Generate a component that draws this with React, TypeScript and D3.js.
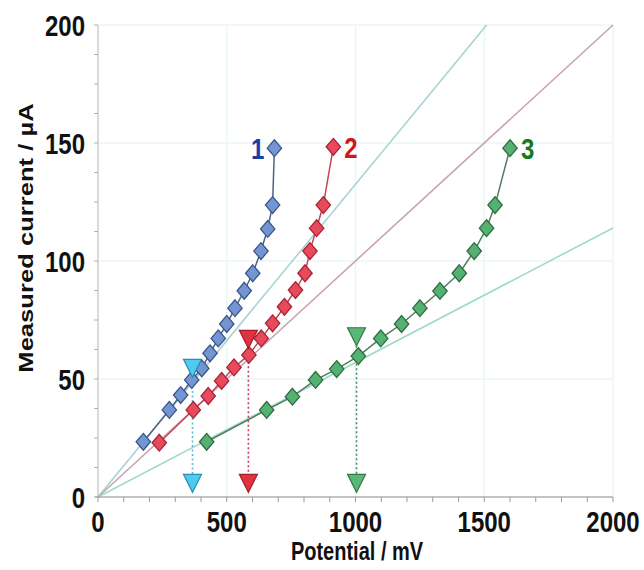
import React from "react";
import * as d3 from "d3";

const bluePotential = [176, 277, 321, 364, 403, 435, 467, 500, 532, 568, 601, 633, 659, 678, 685];
const blueCurrent = [23.4, 36.9, 43.2, 49.6, 54.5, 60.9, 67.2, 73.3, 80.0, 87.4, 94.8, 104.2, 113.6, 123.7, 147.8];
const redPotential = [238, 370, 428, 480, 528, 586, 634, 678, 724, 767, 804, 823, 849, 875, 914];
const redCurrent = [23.0, 36.9, 42.8, 49.2, 54.9, 60.2, 67.2, 73.6, 80.6, 87.7, 94.8, 104.2, 113.9, 123.7, 148.4];
const greenPotential = [422, 655, 755, 845, 927, 1011, 1098, 1179, 1250, 1328, 1403, 1461, 1509, 1542, 1600];
const greenCurrent = [23.4, 36.9, 42.5, 49.6, 54.2, 59.7, 67.2, 73.3, 80.0, 87.3, 94.8, 104.2, 113.9, 123.7, 147.8];

const refSlopes = [0.1325, 0.1, 0.057];
const markerPotential = [367, 584, 1004];
const markerTopCurrent = [54.5, 66.8, 67.9];
const markerBottomCurrent = 5.8;

const xTicks = [0, 500, 1000, 1500, 2000];
const yTicks = [0, 50, 100, 150, 200];
const seriesLabels = ["1", "2", "3"];

const W = 644, H = 570;
const x = d3.scaleLinear().domain([0, 2000]).range([98, 613]);
const y = d3.scaleLinear().domain([0, 200]).range([497, 25]);

const series = [
  { px: bluePotential, cy: blueCurrent, fill: "#7396d2", stroke: "#3b5688", line: "#4f6284", label: "#1c3ea3" },
  { px: redPotential, cy: redCurrent, fill: "#e8495b", stroke: "#a52438", line: "#c24658", label: "#d01818" },
  { px: greenPotential, cy: greenCurrent, fill: "#55b172", stroke: "#2d6b40", line: "#4f7d5e", label: "#157a1c" },
];
const refColors = ["#a9d4d2", "#c9a3b4", "#9fdcc6"];
const triFill = ["#4fcbf2", "#e3323f", "#58b977"];
const triStroke = ["#2b8db3", "#a11e2d", "#2f7a47"];
const dotColor = ["#5cbad6", "#c23c5a", "#4b8c62"];

const font = "'Liberation Sans', Arial, sans-serif";
const SY = 1.25;

function diamond(cx: number, cy: number, rx: number, ry: number) {
  return `M${cx},${cy - ry}L${cx + rx},${cy}L${cx},${cy + ry}L${cx - rx},${cy}Z`;
}
function triDown(cx: number, cy: number, w: number, h: number) {
  return `M${cx - w / 2},${cy - h / 2}L${cx + w / 2},${cy - h / 2}L${cx},${cy + h / 2}Z`;
}

function T(props: { x: number; y: number; size: number; anchor?: string; fill?: string; dy?: string; children: any }) {
  return (
    <text transform={`translate(${props.x},${props.y}) scale(1,${SY})`} textAnchor={props.anchor || "middle"}
      dy={props.dy} fontFamily={font} fontWeight="bold" fontSize={props.size} fill={props.fill || "#111"}>
      {props.children}
    </text>
  );
}

export default function App() {
  const line = d3.line<[number, number]>().x((d) => x(d[0])).y((d) => y(d[1]));
  const xMinor = d3.range(0, 2001, 100);
  const yMinor = d3.range(0, 200.1, 12.5);
  return (
    <svg width={W} height={H} style={{ position: "absolute", left: 0, top: 0, background: "#fff" }}>
      {/* grid */}
      {xTicks.slice(1).map((t) => (
        <line key={"gx" + t} x1={x(t)} x2={x(t)} y1={y(0)} y2={y(200)} stroke="#ebf7f5" strokeWidth={1.5} />
      ))}
      {yTicks.slice(1).map((t) => (
        <line key={"gy" + t} x1={x(0)} x2={x(2000)} y1={y(t)} y2={y(t)} stroke="#ebf7f5" strokeWidth={1.5} />
      ))}
      {/* reference lines */}
      {refSlopes.map((s, i) => {
        const xe = Math.min(2000, 200 / s);
        return (
          <path key={"r" + i} d={line([[0, 0], [xe, xe * s]]) || ""} stroke={refColors[i]} strokeWidth={1.6} fill="none" />
        );
      })}
      {/* dotted drop lines */}
      {markerPotential.map((p, i) => (
        <line key={"d" + i} x1={x(p)} x2={x(p)} y1={y(markerTopCurrent[i])} y2={y(markerBottomCurrent)}
          stroke={dotColor[i]} strokeWidth={1.6} strokeDasharray="2,2.5" />
      ))}
      {/* axes */}
      <line x1={x(0)} x2={x(0)} y1={y(0)} y2={y(200)} stroke="#b5b5b5" strokeWidth={1} />
      <line x1={x(0) - 3} x2={x(2000)} y1={y(0)} y2={y(0)} stroke="#8a8a8a" strokeWidth={1.2} />
      {yMinor.map((t) => (
        <line key={"ym" + t} x1={x(0) - 4} x2={x(0)} y1={y(t)} y2={y(t)} stroke="#b0b0b0" strokeWidth={1} />
      ))}
      {xMinor.map((t) => (
        <line key={"xm" + t} x1={x(t)} x2={x(t)} y1={y(0)} y2={y(0) + 5} stroke="#9a9a9a" strokeWidth={1} />
      ))}
      {yTicks.map((t) => (
        <T key={"yl" + t} x={x(0) - 13} y={y(t)} dy="0.36em" anchor="end" size={24}>{t}</T>
      ))}
      {xTicks.map((t) => (
        <T key={"xl" + t} x={x(t)} y={y(0) + 24} dy="0.36em" size={24}>{t}</T>
      ))}
      <T x={357} y={560} size={20}>Potential / mV</T>
      <text transform={`translate(33,238) rotate(-90) scale(${SY + 0.03},1)`} textAnchor="middle" fontFamily={font}
        fontWeight="bold" fontSize={20} fill="#111">
        Measured current / µA
      </text>
      {/* series */}
      {series.map((s, i) => {
        const pts: [number, number][] = s.px.map((p, j) => [p, s.cy[j]]);
        return (
          <g key={"s" + i}>
            <path d={line(pts) || ""} stroke={s.line} strokeWidth={1.5} fill="none" />
            {pts.map((p, j) => (
              <path key={j} d={diamond(x(p[0]), y(p[1]), 7.2, 8.4)} fill={s.fill} stroke={s.stroke} strokeWidth={1.3} />
            ))}
          </g>
        );
      })}
      {/* triangle markers */}
      {markerPotential.map((p, i) => (
        <g key={"t" + i}>
          <path d={triDown(x(p), y(markerTopCurrent[i]), 18, 18)} fill={triFill[i]} stroke={triStroke[i]} strokeWidth={1.2} />
          <path d={triDown(x(p), y(markerBottomCurrent), 18, 18)} fill={triFill[i]} stroke={triStroke[i]} strokeWidth={1.2} />
        </g>
      ))}
      {/* series number labels */}
      {series.map((s, i) => {
        const n = s.px.length - 1;
        return (
          <T key={"n" + i} x={i === 0 ? x(s.px[n]) - 10 : x(s.px[n]) + 11} y={y(s.cy[n])} dy="0.36em"
            anchor={i === 0 ? "end" : "start"} size={24} fill={s.label}>
            {seriesLabels[i]}
          </T>
        );
      })}
    </svg>
  );
}
